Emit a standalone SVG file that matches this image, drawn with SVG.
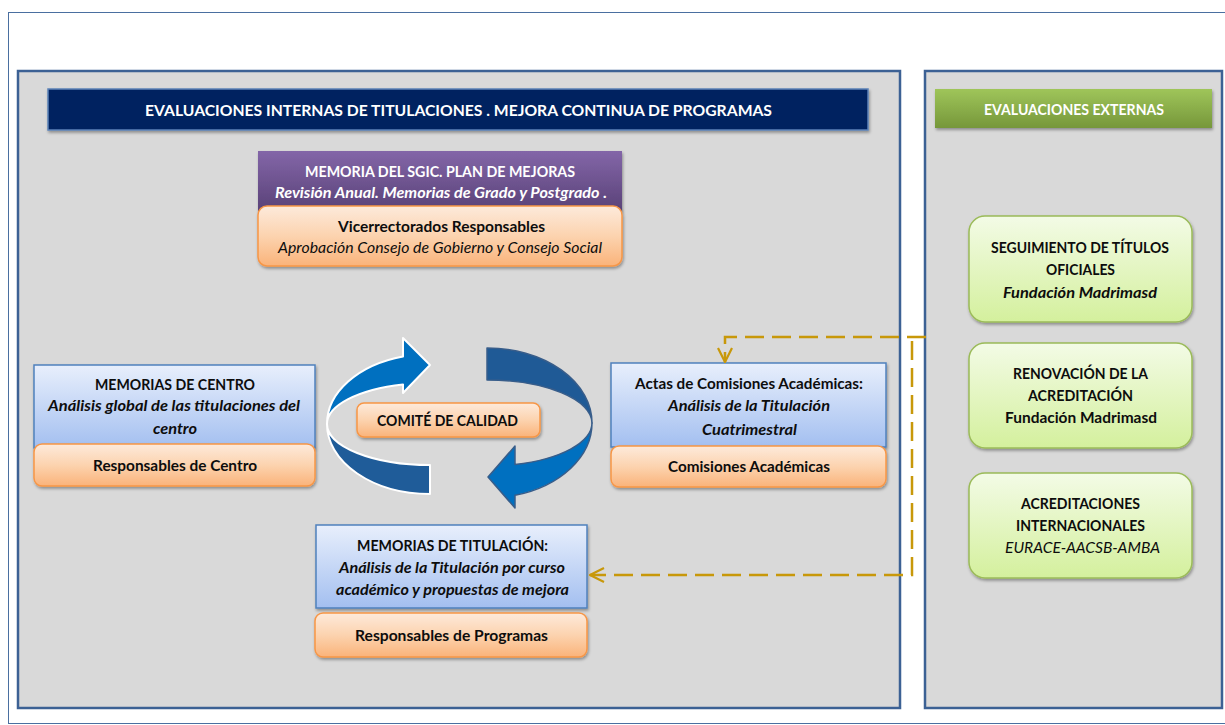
<svg xmlns="http://www.w3.org/2000/svg" width="1225" height="725" viewBox="0 0 1225 725">
<defs>
<linearGradient id="gBlue" x1="0" y1="0" x2="0" y2="1"><stop offset="0" stop-color="#e8effc"/><stop offset="1" stop-color="#a3bff0"/></linearGradient>
<linearGradient id="gOrange" x1="0" y1="0" x2="0" y2="1"><stop offset="0" stop-color="#fdeadb"/><stop offset="0.5" stop-color="#fcd3af"/><stop offset="1" stop-color="#fab37a"/></linearGradient>
<linearGradient id="gPurple" x1="0" y1="0" x2="0" y2="1"><stop offset="0" stop-color="#8366a8"/><stop offset="1" stop-color="#5a4278"/></linearGradient>
<linearGradient id="gGreenH" x1="0" y1="0" x2="0" y2="1"><stop offset="0" stop-color="#9fc55a"/><stop offset="1" stop-color="#76973a"/></linearGradient>
<linearGradient id="gGreen" x1="0" y1="0" x2="0" y2="1"><stop offset="0" stop-color="#f3fbe6"/><stop offset="1" stop-color="#d4f09d"/></linearGradient>
<filter id="sh" x="-10%" y="-10%" width="120%" height="130%"><feDropShadow dx="1" dy="2" stdDeviation="1.5" flood-color="#000" flood-opacity="0.35"/></filter>
<marker id="ah" viewBox="0 0 16 16" refX="15" refY="8" markerWidth="16" markerHeight="16" markerUnits="userSpaceOnUse" orient="auto"><path d="M1,1 L15,8 L1,15" fill="none" stroke="#c8980a" stroke-width="2.2"/></marker>
<style>
text{font-family:Lato,"Open Sans","Liberation Sans",sans-serif;font-size:15px;text-anchor:middle;fill:#0d0d0d}
.b{font-weight:bold}
.i{font-style:italic}
.w{fill:#fff}
.blue{fill:url(#gBlue);stroke:#4f81bd;stroke-width:1.5;filter:url(#sh)}
.orange{fill:url(#gOrange);stroke:#f79646;stroke-width:1.5;filter:url(#sh)}
.green{fill:url(#gGreen);stroke:#9bbb59;stroke-width:1.5;filter:url(#sh)}
.panel{fill:#d9d9d9;stroke:#3c6194;stroke-width:2.5}
.dash{fill:none;stroke:#c8980a;stroke-width:2.5;stroke-dasharray:19 8}
</style>
</defs>
<rect x="0" y="0" width="1225" height="725" fill="#fff"/>
<rect x="8.5" y="12.5" width="1230" height="711" fill="#fff" stroke="#4a6fa0" stroke-width="1"/>
<rect class="panel" x="18" y="71" width="882" height="637"/>
<rect class="panel" x="925" y="71" width="297" height="637"/>

<g id="title-internas">
<rect x="48" y="89" width="820" height="41" fill="#002060" stroke="#5b82b8" stroke-width="1.5" filter="url(#sh)"/>
<text class="b w" x="458.5" y="116" font-size="16" textLength="627" lengthAdjust="spacingAndGlyphs">EVALUACIONES INTERNAS  DE TITULACIONES . MEJORA CONTINUA DE PROGRAMAS</text>
</g>
<g id="title-externas">
<rect x="935" y="89" width="277" height="39" fill="url(#gGreenH)" filter="url(#sh)"/>
<text class="b w" x="1074" y="115" textLength="180" lengthAdjust="spacingAndGlyphs">EVALUACIONES EXTERNAS</text>
</g>

<g id="memoria-sgic">
<rect x="258" y="151" width="364" height="60" fill="url(#gPurple)" filter="url(#sh)"/>
<text class="b w" x="440" y="177" textLength="270" lengthAdjust="spacingAndGlyphs">MEMORIA DEL SGIC. PLAN DE MEJORAS</text>
<text class="b i w" x="441" y="198" textLength="332" lengthAdjust="spacingAndGlyphs">Revisión Anual. Memorias de Grado y Postgrado .</text>
</g>
<g id="vicerrectorados">
<rect class="orange" x="258" y="206" width="364" height="60" rx="9"/>
<text class="b" x="441.5" y="232" textLength="207" lengthAdjust="spacingAndGlyphs">Vicerrectorados Responsables</text>
<text class="i" x="440" y="253" textLength="324" lengthAdjust="spacingAndGlyphs">Aprobación Consejo de Gobierno y Consejo Social</text>
</g>

<g id="ciclo">
<g stroke="#fff" stroke-width="2" stroke-linejoin="round">
<path d="M403,384.4 L403,393 L430,365 L403,338 L403,356.4 A103 70 0 0 0 327,424 A103 41 0 0 1 403,384.4 Z" fill="#0070c0"/>
<path d="M327,424 A103 70 0 0 0 430,494 L430,465 A103 41 0 0 1 327,424 Z" fill="#1f5c99"/>
</g>
<g stroke="#385d8a" stroke-width="1.5" stroke-linejoin="round">
<path d="M487,348 A105 75 0 0 1 592,423 A105 43 0 0 0 487,380 Z" fill="#1f5a96"/>
<path d="M592,423 A105 75 0 0 1 515,495.3 L515,508 L488,477 L515,446 L515,464.5 A105 43 0 0 0 592,423 Z" fill="#0070c0"/>
</g>
</g>

<g id="comite">
<rect class="orange" x="357" y="403" width="183" height="34" rx="7"/>
<text class="b" x="447.5" y="426" textLength="141" lengthAdjust="spacingAndGlyphs">COMITÉ DE CALIDAD</text>
</g>

<g id="memorias-centro">
<rect class="blue" x="34" y="365" width="281" height="83"/>
<text class="b" x="175" y="390" textLength="160" lengthAdjust="spacingAndGlyphs">MEMORIAS DE CENTRO</text>
<text class="b i" x="174" y="411" textLength="252" lengthAdjust="spacingAndGlyphs">Análisis global  de las titulaciones del</text>
<text class="b i" x="175" y="434" textLength="44" lengthAdjust="spacingAndGlyphs">centro</text>
</g>
<g id="responsables-centro">
<rect class="orange" x="34" y="444" width="281" height="42" rx="8"/>
<text class="b" x="175" y="471" textLength="164" lengthAdjust="spacingAndGlyphs">Responsables de Centro</text>
</g>

<g id="actas">
<rect class="blue" x="611" y="363" width="275" height="84"/>
<text class="b" x="749" y="389" textLength="228" lengthAdjust="spacingAndGlyphs">Actas de Comisiones Académicas:</text>
<text class="b i" x="749" y="411" textLength="162" lengthAdjust="spacingAndGlyphs">Análisis de la Titulación</text>
<text class="b i" x="749.5" y="435" textLength="95" lengthAdjust="spacingAndGlyphs">Cuatrimestral</text>
</g>
<g id="comisiones">
<rect class="orange" x="611" y="446" width="275" height="41" rx="8"/>
<text class="b" x="749" y="472" textLength="162" lengthAdjust="spacingAndGlyphs">Comisiones Académicas</text>
</g>

<g id="memorias-titulacion">
<rect class="blue" x="316" y="525" width="271" height="83"/>
<text class="b" x="452.5" y="551" textLength="191" lengthAdjust="spacingAndGlyphs">MEMORIAS DE TITULACIÓN:</text>
<text class="b i" x="452" y="573" textLength="226" lengthAdjust="spacingAndGlyphs">Análisis de la Titulación por curso</text>
<text class="b i" x="452.5" y="595" textLength="233" lengthAdjust="spacingAndGlyphs">académico y propuestas de mejora</text>
</g>
<g id="responsables-programas">
<rect class="orange" x="315" y="613" width="272" height="44" rx="8"/>
<text class="b" x="451.5" y="641" textLength="193" lengthAdjust="spacingAndGlyphs">Responsables  de Programas</text>
</g>

<g id="seguimiento">
<rect class="green" x="969" y="216" width="223" height="106" rx="16"/>
<text class="b" x="1080" y="253" textLength="178" lengthAdjust="spacingAndGlyphs">SEGUIMIENTO DE TÍTULOS</text>
<text class="b" x="1080.5" y="275" textLength="69" lengthAdjust="spacingAndGlyphs">OFICIALES</text>
<text class="b i" x="1080" y="298" textLength="154" lengthAdjust="spacingAndGlyphs">Fundación Madrimasd</text>
</g>
<g id="renovacion">
<rect class="green" x="969" y="343" width="223" height="105" rx="16"/>
<text class="b" x="1080.5" y="379" textLength="135" lengthAdjust="spacingAndGlyphs">RENOVACIÓN DE LA</text>
<text class="b" x="1080.5" y="401" textLength="105" lengthAdjust="spacingAndGlyphs">ACREDITACIÓN</text>
<text class="b" x="1081" y="423" textLength="152" lengthAdjust="spacingAndGlyphs">Fundación Madrimasd</text>
</g>
<g id="internacionales">
<rect class="green" x="969" y="473" width="223" height="105" rx="16"/>
<text class="b" x="1080.5" y="509" textLength="119" lengthAdjust="spacingAndGlyphs">ACREDITACIONES</text>
<text class="b" x="1080.5" y="531" textLength="129" lengthAdjust="spacingAndGlyphs">INTERNACIONALES</text>
<text class="i" x="1082.5" y="553" textLength="155" lengthAdjust="spacingAndGlyphs">EURACE-AACSB-AMBA</text>
</g>

<g id="connectors">
<path class="dash" d="M926,337 L725,337 L725,362" marker-end="url(#ah)"/>
<path class="dash" d="M912,341 L912,575 L590,575" marker-end="url(#ah)"/>
</g>
</svg>
